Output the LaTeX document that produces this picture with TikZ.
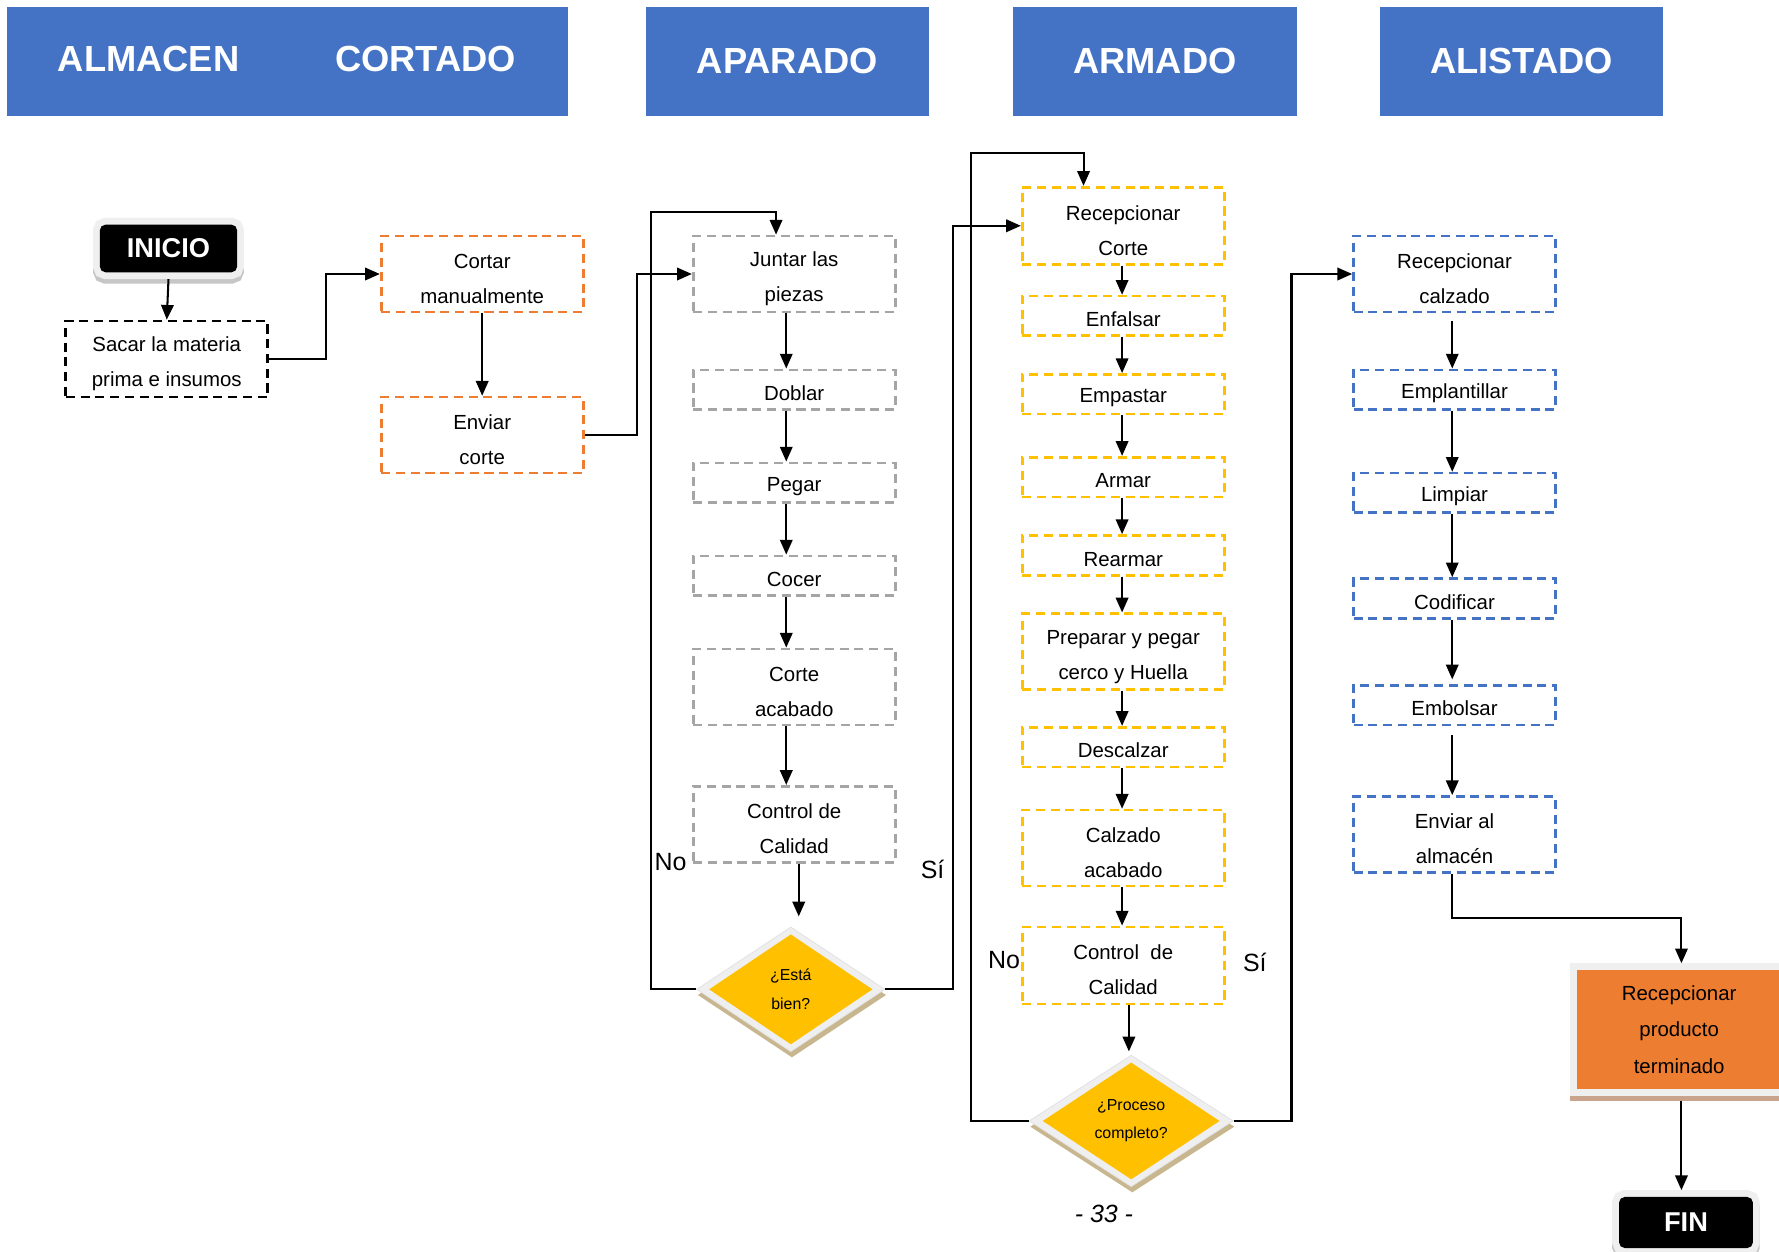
\documentclass[tikz,border=0pt]{standalone}
\usepackage{fontspec}
\setmainfont{Liberation Sans}
\usetikzlibrary{arrows.meta,shapes.geometric,calc}

\definecolor{hdrblue}{HTML}{4472C4}
\definecolor{cutorange}{HTML}{ED7D31}
\definecolor{stitchgray}{HTML}{A5A5A5}
\definecolor{assemblyyellow}{HTML}{FFC000}
\definecolor{finishblue}{HTML}{4472C4}
\definecolor{halogray}{HTML}{EFEFEF}
\definecolor{shadegray}{HTML}{C6C6C6}
\definecolor{tanshade}{HTML}{C8B78E}
\definecolor{brownshade}{HTML}{C9A48C}

% zero-width strut that lowers the text block inside a two-line box
\newcommand{\firstlift}{\rule{0pt}{21pt}}

\tikzset{
  header/.style={fill=hdrblue, text=white, inner sep=0pt, minimum height=96pt,
    font=\fontsize{32}{38}\selectfont\bfseries},
  hdrtext/.style={text=white, inner sep=0pt, font=\fontsize{32}{38}\selectfont\bfseries},
  stepbox/.style={draw=#1, dash pattern=on 8pt off 5pt, line width=2.4pt,
    minimum width=178pt, inner sep=0pt, align=center, fill=white,
    font=\fontsize{18}{31}\selectfont},
  onerow/.style={minimum height=35pt, execute at begin node={\rule{0pt}{19pt}}},
  tworow/.style={minimum height=67pt},
  wire/.style={line width=1.8pt, black},
  arr/.style={wire, -{Triangle[length=13pt,width=11pt]}},
  terminal/.style={fill=black, text=white, rounded corners=5pt, inner sep=0pt,
    outer sep=6pt, font=\fontsize{24}{28}\selectfont\bfseries,
    preaction={draw=shadegray, line width=12pt, transform canvas={yshift=-4pt}},
    preaction={draw=halogray, line width=12pt}},
  prodbox/.style={fill=cutorange, inner sep=0pt, outer sep=6pt, align=center,
    minimum width=180pt, minimum height=105pt,
    font=\fontsize{18}{32}\selectfont,
    preaction={draw=brownshade, line width=12pt, transform canvas={yshift=-4pt}},
    preaction={draw=halogray, line width=12pt}},
  dframe/.style={diamond, inner sep=0pt, fill=halogray, draw=black!12, line width=0.6pt,
    preaction={fill=tanshade, transform canvas={xshift=1pt, yshift=-5pt}}},
  dcore/.style={diamond, inner sep=0pt, fill=assemblyyellow, align=center,
    font=\fontsize{14}{25}\selectfont},
  answer/.style={inner sep=0pt, font=\fontsize{22}{26}\selectfont},
}

\begin{document}
\begin{tikzpicture}[x=1pt, y=-1pt]
  \useasboundingbox (0,0) rectangle (1568,1103);
  \fill[white] (0,0) rectangle (1568,1103);
  \clip (0,0) rectangle (1568,1103);

  % department headers
  \node[header, minimum width=495pt] (hA) at (253.5,54) {};
  \node[hdrtext] (hAlm) at (131,52) {ALMACEN};
  \node[hdrtext] (hCor) at (375,52) {CORTADO};
  \node[header, minimum width=250pt] (hB) at (694,54) {APARADO};
  \node[header, minimum width=250pt] (hC) at (1018,54) {ARMADO};
  \node[header, minimum width=250pt] (hD) at (1341,54) {ALISTADO};

  % almacen and cortado
  \node[terminal, minimum width=121pt, minimum height=42pt] (inicio) at (148.5,219) {INICIO};
  \node[stepbox=black, tworow] (sacar) at (147,316.5) {\firstlift Sacar la materia\\prima e insumos};
  \node[stepbox=cutorange, tworow] (cortar) at (425,241.5) {\firstlift Cortar\\manualmente};
  \node[stepbox=cutorange, tworow] (enviar) at (425,383.5) {\firstlift Enviar\\corte};

  % aparado
  \node[stepbox=stitchgray, tworow] (juntar) at (700,241.5) {\firstlift Juntar las\\piezas};
  \node[stepbox=stitchgray, onerow] (doblar) at (700,343.5) {Doblar};
  \node[stepbox=stitchgray, onerow] (pegar) at (700,425.5) {Pegar};
  \node[stepbox=stitchgray, onerow] (cocer) at (700,507.5) {Cocer};
  \node[stepbox=stitchgray, tworow] (corteacab) at (700,605.5) {\firstlift Corte\\acabado};
  \node[stepbox=stitchgray, tworow] (ctrlA) at (700,726.5) {\firstlift Control de\\Calidad};
  \node[dframe, minimum width=166pt, minimum height=110pt] (d1) at (697,872) {};
  \node[dcore, minimum width=144pt, minimum height=97pt] (d1core) at (d1.center) {¿Está\\bien?};
  \node[answer] (noA) at (591,760) {No};
  \node[answer] (siA) at (822,766) {Sí};

  % armado
  \node[stepbox=assemblyyellow, minimum height=68pt] (reccorte) at (990,199) {\firstlift Recepcionar\\Corte};
  \node[stepbox=assemblyyellow, onerow] (enfalsar) at (990,278.5) {Enfalsar};
  \node[stepbox=assemblyyellow, onerow] (empastar) at (990,347.5) {Empastar};
  \node[stepbox=assemblyyellow, onerow] (armar) at (990,420.5) {Armar};
  \node[stepbox=assemblyyellow, onerow] (rearmar) at (990,489.5) {Rearmar};
  \node[stepbox=assemblyyellow, tworow] (preparar) at (990,574.5) {\firstlift Preparar y pegar\\cerco y Huella};
  \node[stepbox=assemblyyellow, onerow] (descalzar) at (990,658.5) {Descalzar};
  \node[stepbox=assemblyyellow, tworow] (calzado) at (990,747.5) {\firstlift Calzado\\acabado};
  \node[stepbox=assemblyyellow, minimum height=68pt] (ctrlB) at (990,851) {\firstlift Control\ \ de\\Calidad};
  \node[dframe, minimum width=180pt, minimum height=116pt] (d2) at (997,988) {};
  \node[dcore, minimum width=156pt, minimum height=103pt] (d2core) at (d2.center) {¿Proceso\\completo?};
  \node[answer] (noB) at (885,846) {No};
  \node[answer] (siB) at (1106,848) {Sí};

  % alistado
  \node[stepbox=finishblue, tworow] (reccalz) at (1282,241.5) {\firstlift Recepcionar\\calzado};
  \node[stepbox=finishblue, onerow] (emplant) at (1282,343.5) {Emplantillar};
  \node[stepbox=finishblue, onerow] (limpiar) at (1282,434.5) {Limpiar};
  \node[stepbox=finishblue, onerow] (codificar) at (1282,527.5) {Codificar};
  \node[stepbox=finishblue, onerow] (embolsar) at (1282,621.5) {Embolsar};
  \node[stepbox=finishblue, tworow] (enviaral) at (1282,735.5) {\firstlift Enviar al\\almacén};
  \node[prodbox] (recprod) at (1480,907.5) {Recepcionar\\producto\\terminado};
  \node[terminal, minimum width=118pt, minimum height=45pt] (fin) at (1486,1077.5) {FIN};

  % page number
  \node[inner sep=0pt, font=\fontsize{22}{26}\selectfont\itshape] (pagenum) at (973,1070) {- 33 -};

  % connectors: almacen and cortado
  \draw[arr] (inicio.south) -- (sacar.north);
  \draw[arr] (sacar.east) -- ++(50,0) |- (cortar.west);
  \draw[arr] (cortar.south) -- (enviar.north);
  \draw[arr] (enviar.east) -- ++(46,0) |- (juntar.west);

  % connectors: aparado
  \foreach \a/\b in {juntar/doblar, doblar/pegar, pegar/cocer, cocer/corteacab, corteacab/ctrlA}
    \draw[arr] ([xshift=-7pt]\a.south) -- ([xshift=-7pt]\b.north);
  \draw[arr] ([xshift=4pt]ctrlA.south) -- ([xshift=7pt, yshift=9pt]d1.north);
  \draw[arr] (d1.west) -| ++(-40,-685) -| ([xshift=-16pt]juntar.north);
  \draw[arr] (d1.east) -- ++(60,0) |- (reccorte.west);

  % connectors: armado
  \foreach \a/\b in {reccorte/enfalsar, enfalsar/empastar, empastar/armar, armar/rearmar,
                     rearmar/preparar, preparar/descalzar, descalzar/calzado, calzado/ctrlB}
    \draw[arr] ([xshift=-1pt]\a.south) -- ([xshift=-1pt]\b.north);
  \draw[arr] ([xshift=5pt]ctrlB.south) -- ([xshift=-2pt, yshift=3pt]d2.north);
  \draw[arr] (d2.west) -| ++(-51,-853) -| ([xshift=-35pt]reccorte.north);
  \draw[arr] (d2.east) -- ++(51,0) |- (reccalz.west);

  % connectors: alistado
  \draw[arr, shorten <=7pt] ([xshift=-2pt]reccalz.south) -- ([xshift=-2pt]emplant.north);
  \draw[arr] ([xshift=-2pt]emplant.south) -- ([xshift=-2pt]limpiar.north);
  \draw[arr] ([xshift=-2pt]limpiar.south) -- ([xshift=-2pt]codificar.north);
  \draw[arr] ([xshift=-2pt]codificar.south) -- ([xshift=-2pt, yshift=4pt]embolsar.north);
  \draw[arr, shorten <=8pt] ([xshift=-2pt]embolsar.south) -- ([xshift=-2pt]enviaral.north);
  \draw[arr] ([xshift=-2pt]enviaral.south) -- ++(0,39) -| ([xshift=2pt]recprod.north);
  \draw[arr] ([xshift=2pt, yshift=-4pt]recprod.south) -- ([xshift=2pt]recprod.south |- fin.north);
\end{tikzpicture}
\end{document}
